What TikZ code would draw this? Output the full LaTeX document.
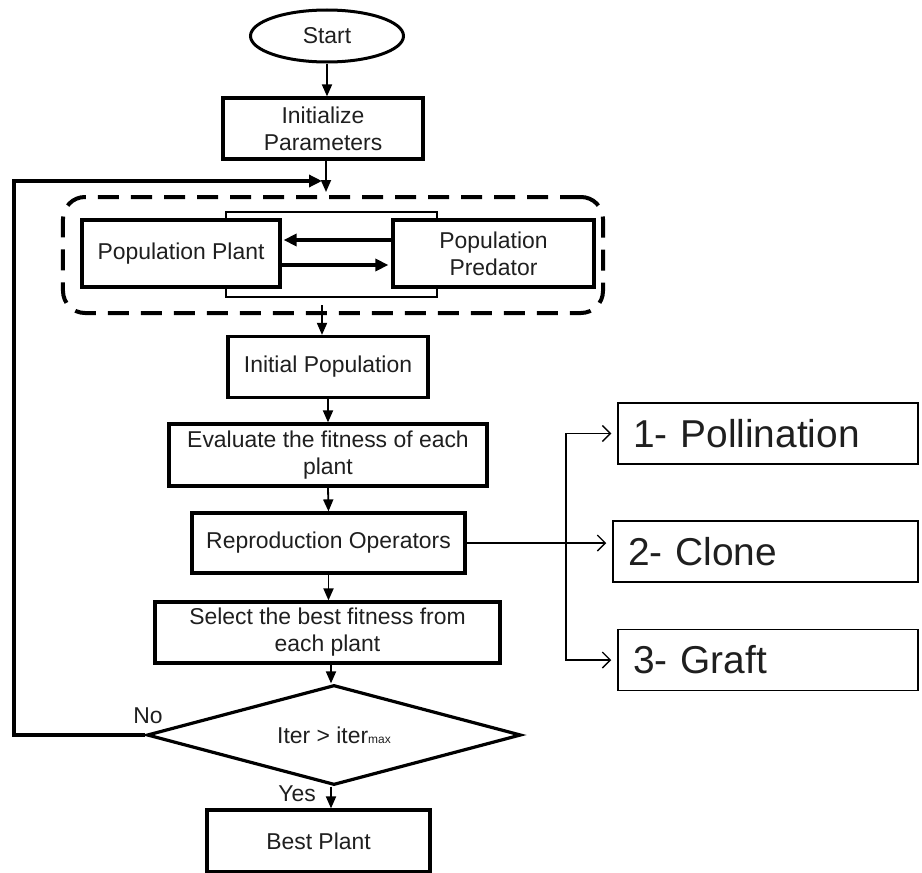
\documentclass[tikz,border=0pt]{standalone}
\usepackage{fontspec}
\setmainfont{Liberation Sans}
\usetikzlibrary{shapes.geometric,arrows.meta,calc}
\begin{document}
\begin{tikzpicture}[x=1bp,y=-1bp,
  every node/.style={font=\fontsize{23}{27}\selectfont, text=black!88},
  flowbox/.style={draw, line width=3.2bp, align=center, inner sep=0pt, fill=white},
  thinbox/.style={draw, line width=1.5bp, inner sep=0pt},
  opbox/.style={draw, line width=1.5bp, inner ysep=0pt, inner xsep=15bp,
    font=\fontsize{39}{44}\selectfont, align=left, minimum height=61bp},
  arr/.style={line width=1.8bp, -{Triangle[length=12bp,width=10bp]}},
  heavyarr/.style={line width=3.6bp, -{Triangle[length=13bp,width=12bp]}},
  openarr/.style={line width=1.4bp, -{Straight Barb[length=8bp,width=16bp,line width=1.4bp]}, shorten >=6bp},
  groupbox/.style={draw, line width=4bp, dash pattern=on 21bp off 12bp,
    rounded corners=22bp, inner sep=0pt}
]
\useasboundingbox (0,0) rectangle (922,873);

% main column
\node[draw, ellipse, line width=3bp, inner sep=0pt, minimum width=153bp, minimum height=52bp] (start) at (327,36) {Start};
\node[flowbox, minimum width=200bp, minimum height=61bp] (init) at (323,128.5) {Initialize\\Parameters};

% population group
\node[groupbox, minimum width=540bp, minimum height=116bp] (grp) at (333,255) {};
\node[thinbox, minimum width=211bp, minimum height=85bp] (core) at (331.5,254.5) {};
\node[flowbox, minimum width=198bp, minimum height=67bp] (plant) at (181,253.5) {Population Plant};
\node[flowbox, minimum width=201bp, minimum height=67bp] (pred) at (493.5,253.5) {Population\\Predator};

\node[flowbox, minimum width=200bp, minimum height=61bp] (ipop) at (328,367) {Initial Population};
\node[flowbox, minimum width=318bp, minimum height=62bp] (eval) at (328,455) {Evaluate the fitness of each\\plant};
\node[flowbox, minimum width=273bp, minimum height=60bp] (repro) at (328.5,543) {Reproduction Operators};
\node[flowbox, minimum width=345bp, minimum height=61bp] (sel) at (327.5,632.5) {Select the best fitness from\\each plant};
\node[draw, diamond, aspect=3.74, line width=3.2bp, inner sep=0pt, minimum width=374bp, minimum height=100bp] (dia) at (334,735)
  {Iter > iter{\fontsize{12}{12}\selectfont max}};
\node[flowbox, minimum width=223bp, minimum height=62bp] (best) at (318.5,841) {Best Plant};

% operators
\node[opbox, text width=270bp] (poll) at (768,433.5) {1- Pollination};
\node[opbox, text width=275bp] (clone) at (765.5,551.5) {2- Clone};
\node[opbox, text width=270bp] (graft) at (768,660) {3- Graft};

% labels
\node (no) at (148,716) {No};
\node (yes) at (297,794) {Yes};

% flow connectors
\draw[arr] (start.south) -- (start.south |- init.north);
\coordinate (merge) at (322,181);
\coordinate (loopx) at (14,181);
\draw[arr] (init.south -| 326,0) -- ([yshift=3bp]grp.north -| 326,0);
\draw[heavyarr] (dia.west) -| (loopx) -- (merge);
\draw[heavyarr] ([yshift=13.5bp]pred.west) -- ([yshift=13.5bp,xshift=2bp]plant.east);
\draw[heavyarr] ([yshift=-11.5bp]plant.east) -- ([yshift=-11.5bp,xshift=-3bp]pred.west);
\draw[arr] ([yshift=10bp]grp.south -| 322,0) -- (ipop.north -| 322,0);
\draw[arr] (ipop.south) -- (eval.north);
\draw[arr] (eval.south) -- (repro.north);
\draw[arr] (repro.south) -- (sel.north -| repro.south);
\draw[arr] (sel.south -| 331,0) -- (dia.north -| 331,0);
\draw[arr] (dia.south -| 331,0) -- (best.north -| 331,0);

% branch to operators
\coordinate (fork) at (566,543);
\draw[openarr] (repro.east) -- (clone.west |- repro.east);
\draw[openarr] (fork) |- (poll.west);
\draw[openarr] (fork) |- (graft.west);
\end{tikzpicture}
\end{document}
